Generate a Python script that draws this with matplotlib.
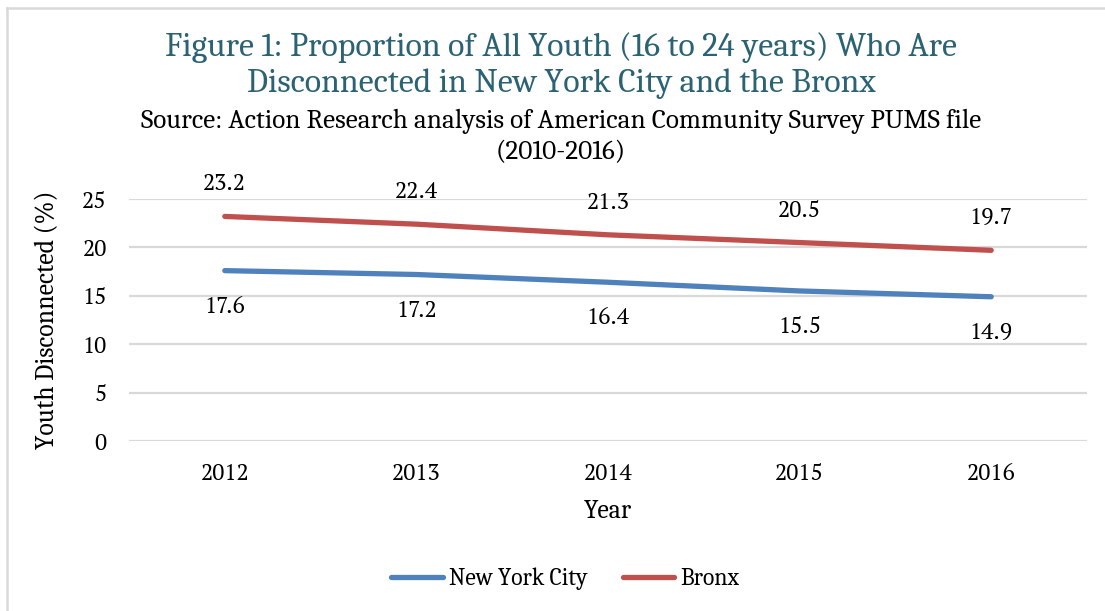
import matplotlib
matplotlib.use("Agg")
import matplotlib.pyplot as plt
from matplotlib.lines import Line2D

plt.rcParams["font.family"] = ["Caladea", "DejaVu Serif"]
# lining figures for the numbers
num_font = ["PT Serif", "DejaVu Serif"]

years = ["2012", "2013", "2014", "2015", "2016"]
nyc = [17.6, 17.2, 16.4, 15.5, 14.9]
bronx = [23.2, 22.4, 21.3, 20.5, 19.7]
yticks = [0, 5, 10, 15, 20, 25]

blue = "#4F81BD"
red = "#C0504D"
grid_gray = "#D9D9D9"
title_color = "#2B6374"

fig = plt.figure(figsize=(11.05, 6.11), dpi=100)
ax = fig.add_axes([129 / 1105, 1 - 441 / 611, 958 / 1105, 242 / 611])

x = range(len(years))
ax.plot(x, nyc, color=blue, lw=3.8, solid_capstyle="round", label="New York City", zorder=3)
ax.plot(x, bronx, color=red, lw=3.8, solid_capstyle="round", label="Bronx", zorder=3)

# value labels: Bronx above the line, NYC below
for i, v in enumerate(bronx):
    ax.annotate(f"{v:.1f}", (i, v), xytext=(0, 23), textcoords="offset points",
                ha="center", va="center", fontsize=16.5, family=num_font,
                annotation_clip=False)
for i, v in enumerate(nyc):
    ax.annotate(f"{v:.1f}", (i, v), xytext=(0, -26), textcoords="offset points",
                ha="center", va="center", fontsize=16.5, family=num_font,
                annotation_clip=False)

ax.set_xlim(-0.5, len(years) - 0.5)
ax.set_ylim(0, 25)
ax.set_xticks(list(x))
ax.set_xticklabels(years)
ax.set_yticks(yticks)
ax.tick_params(axis="both", length=0, labelsize=16.5)
ax.tick_params(axis="y", pad=16)
ax.tick_params(axis="x", pad=16)
for lbl in ax.get_xticklabels() + ax.get_yticklabels():
    lbl.set_family(num_font)
ax.yaxis.grid(True, color=grid_gray, lw=1.6)
ax.set_axisbelow(True)
for s in ax.spines.values():
    s.set_visible(False)

ax.set_ylabel("Youth Disconnected (%)", fontsize=18.5, labelpad=16)
ax.set_xlabel("Year", fontsize=18.5, labelpad=10)

cx = 561 / 1105
fig.text(cx, 1 - 48 / 611, "Figure 1: Proportion of All Youth (16 to 24 years) Who Are",
         ha="center", va="center", fontsize=24.3, color=title_color)
fig.text(cx, 1 - 84 / 611, "Disconnected in New York City and the Bronx",
         ha="center", va="center", fontsize=24.3, color=title_color)
fig.text(cx, 1 - 121 / 611, "Source: Action Research analysis of American Community Survey PUMS file",
         ha="center", va="center", fontsize=19.5)
fig.text(cx, 1 - 152 / 611, "(2010-2016)", ha="center", va="center", fontsize=19.5)

fig.legend(loc="center", bbox_to_anchor=(565 / 1105, 1 - 579 / 611), ncol=2, frameon=False,
           fontsize=17, handlelength=2.2, handletextpad=0.25, columnspacing=1.5)

# chart area border (left and top edges)
fig.add_artist(Line2D([7 / 1105, 7 / 1105], [0, 1 - 8 / 611], color=grid_gray, lw=1.8))
fig.add_artist(Line2D([7 / 1105, 1], [1 - 8 / 611, 1 - 8 / 611], color=grid_gray, lw=1.8))

fig.savefig("out.png", dpi=100)
